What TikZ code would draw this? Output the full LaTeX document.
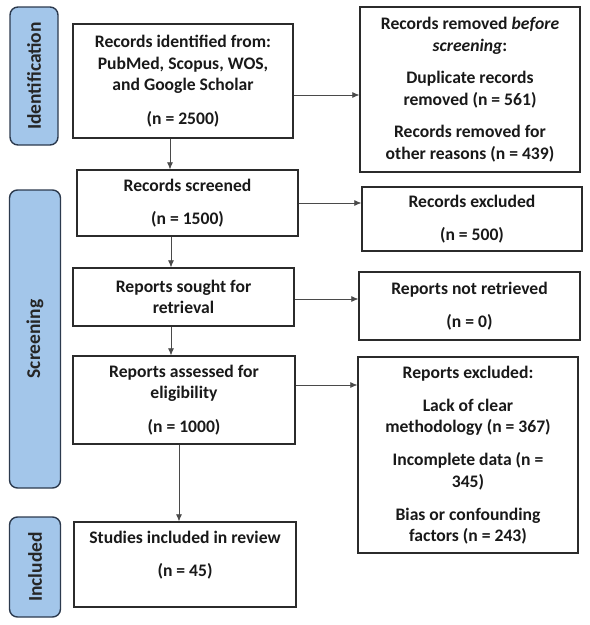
\documentclass[tikz,border=0pt]{standalone}
\usepackage{fontspec}
\setmainfont{Carlito}
\usetikzlibrary{arrows.meta}
\definecolor{barfill}{HTML}{A3C6EA}
\definecolor{barline}{HTML}{2C3A4E}
\definecolor{boxline}{HTML}{2B2B2B}
\definecolor{arrline}{HTML}{4A4A4A}
\tikzset{
  box/.style={draw=boxline, line width=1.3pt, fill=white, inner sep=0pt,
    align=center, font=\bfseries\fontsize{17.6}{21.5}\selectfont, text=black!90},
  bar/.style={draw=barline, line width=1.4pt, fill=barfill, rounded corners=8pt, inner sep=0pt},
  barlabel/.style={rotate=90, font=\bfseries\fontsize{19.5}{22}\selectfont, text=black!85},
  arr/.style={draw=arrline, line width=0.7pt, -{Latex[length=7pt,width=6pt]}},
}
\newcommand{\boxat}[6]{% name, x1, y1, x2, y2, text
  \node[box, minimum width=#4pt-#2pt, minimum height=#5pt-#3pt] (#1) at ({(#2+#4)/2},{(#3+#5)/2}) {#6};}
\begin{document}
\begin{tikzpicture}[x=1pt, y=-1pt]
\useasboundingbox (0,0) rectangle (590,625);
% side bars
\node[bar, minimum width=48pt, minimum height=138pt] (barid) at (34,76) {};
\node[barlabel] (baridt) at (barid.center) {Identification};
\node[bar, minimum width=51pt, minimum height=298pt] (barsc) at (35,339) {};
\node[barlabel] (barsct) at (barsc.center) {Screening};
\node[bar, minimum width=51pt, minimum height=100pt] (barin) at (35,567) {};
\node[barlabel] (barint) at (barin.center) {Included};
% main boxes
\boxat{b1}{73}{24}{293}{138}{Records identified from:\\PubMed, Scopus, WOS,\\and Google Scholar\\[12pt](n = 2500)}
\boxat{b2}{77}{170}{298}{236}{Records screened\\[12pt](n = 1500)}
\boxat{b3}{73}{268}{294}{326}{Reports sought for\\retrieval}
\boxat{b4}{73}{356}{295}{444}{Reports assessed for\\eligibility\\[12pt](n = 1000)}
\boxat{b5}{74}{522}{296}{607}{Studies included in review\\[12pt](n = 45)\\[0pt]\mbox{}}
% right boxes
\boxat{r1}{360}{7}{580}{172}{Records removed \textit{before}\\\textit{screening}:\\[11pt]Duplicate records\\removed (n = 561)\\[11pt]Records removed for\\other reasons (n = 439)}
\boxat{r2}{362}{187}{582}{251}{Records excluded\\[12pt](n = 500)}
\boxat{r3}{359}{272}{580}{340}{Reports not retrieved\\[12pt](n = 0)}
\boxat{r4}{358}{357}{578}{553}{Reports excluded:\\[11.5pt]Lack of clear\\methodology (n = 367)\\[11.5pt]Incomplete data (n =\\345)\\[11.5pt]Bias or confounding\\factors (n = 243)}
% arrows right
\draw[arr] (b1.east |- 0,95) -- (r1.west |- 0,95);
\draw[arr] (b2.east |- 0,203) -- (r2.west |- 0,203);
\draw[arr] (b3.east |- 0,299) -- (r3.west |- 0,299);
\draw[arr] (b4.east |- 0,385) -- (r4.west |- 0,385);
% arrows down
\draw[arr] (170,0 |- b1.south) -- (170,0 |- b2.north);
\draw[arr] (171,0 |- b2.south) -- (171,0 |- b3.north);
\draw[arr] (171,0 |- b3.south) -- (171,0 |- b4.north);
\draw[arr] (179,0 |- b4.south) -- (179,0 |- b5.north);
\end{tikzpicture}
\end{document}
